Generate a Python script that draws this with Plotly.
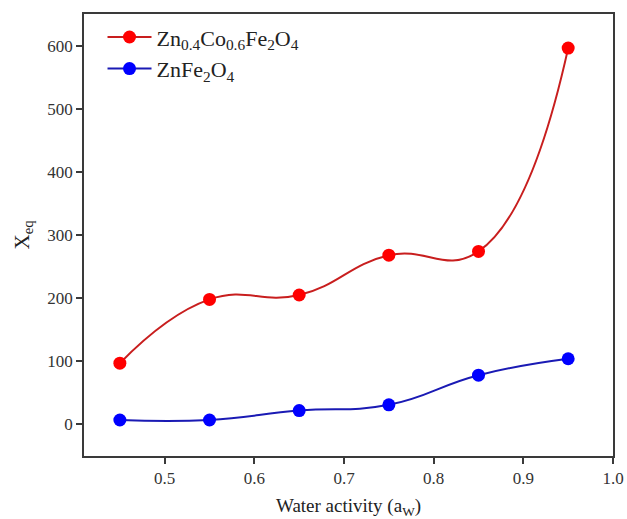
import plotly.graph_objects as go

aw = [0.45, 0.55, 0.65, 0.75, 0.85, 0.95]
zn_co = [97, 198, 205, 268, 274, 596]
zn_fe = [7, 7, 22, 31, 78, 104]
x_ticks = [0.5, 0.6, 0.7, 0.8, 0.9, 1.0]
y_ticks = [0, 100, 200, 300, 400, 500, 600]

SERIF = "Liberation Serif"

fig = go.Figure()
fig.add_trace(go.Scatter(
    x=aw, y=zn_co, mode="lines+markers",
    name="Zn<sub>0.4</sub>Co<sub>0.6</sub>Fe<sub>2</sub>O<sub>4</sub>",
    line=dict(color="#c81e1e", width=2, shape="spline", smoothing=1.3),
    marker=dict(color="#ff0000", size=13, line=dict(width=0)),
))
fig.add_trace(go.Scatter(
    x=aw, y=zn_fe, mode="lines+markers",
    name="ZnFe<sub>2</sub>O<sub>4</sub>",
    line=dict(color="#1a1ab4", width=2, shape="spline", smoothing=1.3),
    marker=dict(color="#0000ff", size=13, line=dict(width=0)),
))

def axis_common():
    return dict(
        showline=True, linecolor="#3a3a3a", linewidth=1.5, mirror=True,
        ticks="outside", ticklen=6, tickwidth=1.5, tickcolor="#3a3a3a",
        showgrid=False, zeroline=False, automargin=False,
        tickfont=dict(family=SERIF, size=17, color="#333333"),
    )

fig.update_layout(
    template="none",
    width=627, height=519,
    margin=dict(l=84, r=14, t=14, b=63),
    plot_bgcolor="white", paper_bgcolor="white",
    font=dict(family=SERIF, size=17, color="#222222"),
    xaxis=dict(range=[0.41, 1.0], tickvals=x_ticks,
               ticktext=[f"{v:.1f}" for v in x_ticks],
               title=dict(text="Water activity (a<sub>W</sub>)",
                          font=dict(family=SERIF, size=19), standoff=12),
               **axis_common()),
    yaxis=dict(range=[-50, 650], tickvals=y_ticks,
               ticktext=[str(v) for v in y_ticks],
               title=dict(text="X<sub>eq</sub>",
                          font=dict(family=SERIF, size=21), standoff=12),
               **axis_common()),
    legend=dict(x=0.035, y=0.995, xanchor="left", yanchor="top",
                bgcolor="rgba(0,0,0,0)",
                font=dict(family=SERIF, size=22, color="#222222"),
                itemwidth=44, tracegroupgap=0),
    showlegend=True,
)

css_js = (
    "document.body.style.margin='0';document.body.style.padding='0';"
    "var st=document.createElement('style');"
    "st.textContent='.xtick text, .ytick text {font-family: \"Liberation Serif\", serif !important; font-size: 17px !important; fill: #333333 !important;}';"
    "document.head.appendChild(st);"
)

fig.write_html("out.html", config={"displayModeBar": False}, post_script=css_js)
